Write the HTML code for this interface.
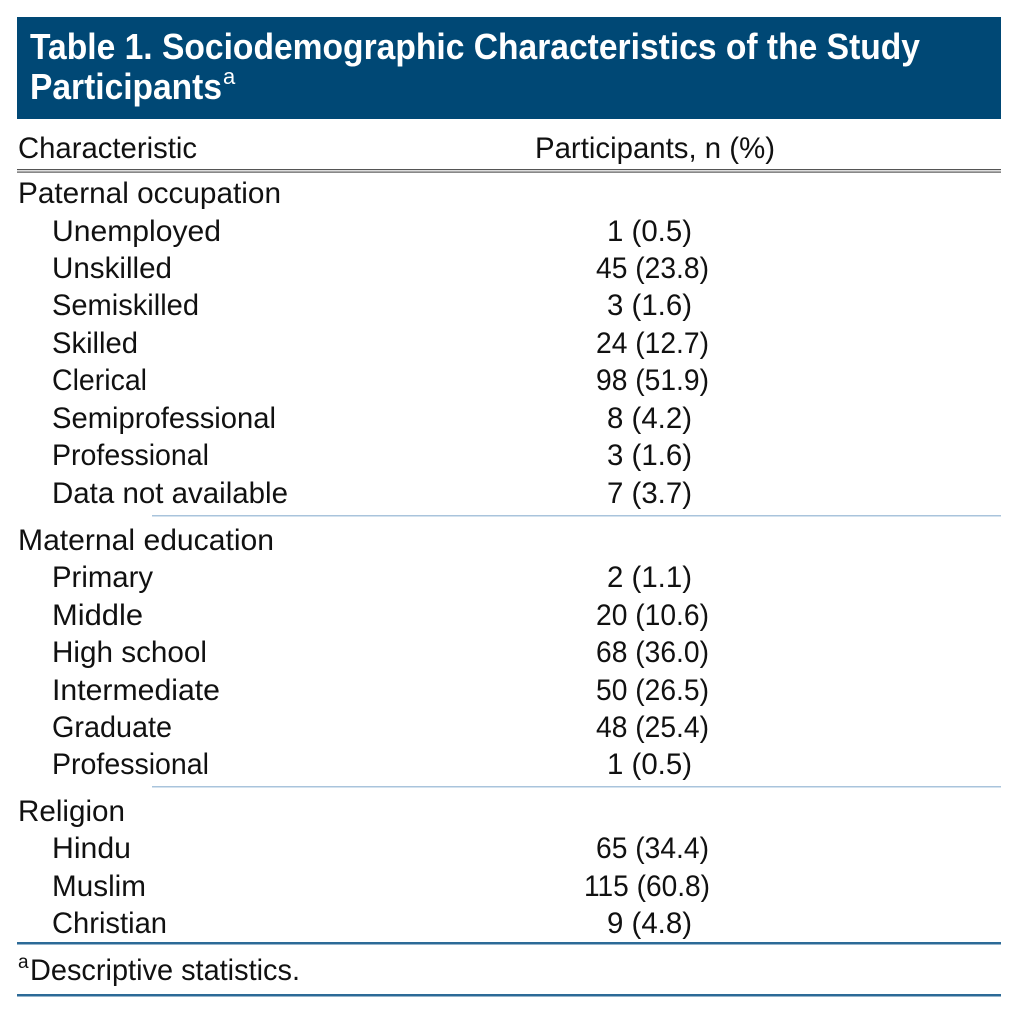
<!DOCTYPE html>
<html><head><meta charset="utf-8"><style>
html,body{margin:0;padding:0;background:#fff;width:1026px;height:1028px;overflow:hidden}
svg{display:block;font-family:"Liberation Sans",sans-serif}
</style></head><body>
<svg width="1026" height="1028" viewBox="0 0 1026 1028">
<rect x="17" y="17" width="984" height="102" fill="#004875"/>
<g fill="#fff" font-weight="bold" font-size="36">
<text x="30" y="59" textLength="890" lengthAdjust="spacingAndGlyphs">Table 1. Sociodemographic Characteristics of the Study</text>
<text x="30" y="99" textLength="192" lengthAdjust="spacingAndGlyphs">Participants</text>
<text x="223" y="84" font-size="22" font-weight="normal">a</text>
</g>
<g font-size="30" fill="#111">
<text x="18" y="158" textLength="179" lengthAdjust="spacingAndGlyphs">Characteristic</text>
<text x="535" y="158" textLength="240" lengthAdjust="spacingAndGlyphs">Participants, n (%)</text>
</g>
<rect x="17" y="169" width="984" height="1.2" fill="#555"/>
<rect x="17" y="171.5" width="984" height="1.2" fill="#555"/>
<g font-size="30" fill="#111">
<text x="18" y="203" textLength="263" lengthAdjust="spacingAndGlyphs">Paternal occupation</text>
<text x="52" y="241" textLength="169" lengthAdjust="spacingAndGlyphs">Unemployed</text>
<text x="52" y="278" textLength="120" lengthAdjust="spacingAndGlyphs">Unskilled</text>
<text x="52" y="315" textLength="147" lengthAdjust="spacingAndGlyphs">Semiskilled</text>
<text x="52" y="353" textLength="86" lengthAdjust="spacingAndGlyphs">Skilled</text>
<text x="52" y="390" textLength="95" lengthAdjust="spacingAndGlyphs">Clerical</text>
<text x="52" y="428" textLength="224" lengthAdjust="spacingAndGlyphs">Semiprofessional</text>
<text x="52" y="465" textLength="157" lengthAdjust="spacingAndGlyphs">Professional</text>
<text x="52" y="503" textLength="236" lengthAdjust="spacingAndGlyphs">Data not available</text>
<text x="18" y="550" textLength="256" lengthAdjust="spacingAndGlyphs">Maternal education</text>
<text x="52" y="587" textLength="101" lengthAdjust="spacingAndGlyphs">Primary</text>
<text x="52" y="625" textLength="91" lengthAdjust="spacingAndGlyphs">Middle</text>
<text x="52" y="662" textLength="155" lengthAdjust="spacingAndGlyphs">High school</text>
<text x="52" y="700" textLength="168" lengthAdjust="spacingAndGlyphs">Intermediate</text>
<text x="52" y="737" textLength="120" lengthAdjust="spacingAndGlyphs">Graduate</text>
<text x="52" y="774" textLength="157" lengthAdjust="spacingAndGlyphs">Professional</text>
<text x="18" y="821" textLength="107" lengthAdjust="spacingAndGlyphs">Religion</text>
<text x="52" y="858" textLength="79" lengthAdjust="spacingAndGlyphs">Hindu</text>
<text x="52" y="896" textLength="94" lengthAdjust="spacingAndGlyphs">Muslim</text>
<text x="52" y="933" textLength="115" lengthAdjust="spacingAndGlyphs">Christian</text>
</g>
<g font-size="30" fill="#111">
<text x="607" y="241" textLength="85" lengthAdjust="spacingAndGlyphs">1 (0.5)</text>
<text x="596" y="278" textLength="113" lengthAdjust="spacingAndGlyphs">45 (23.8)</text>
<text x="607" y="315" textLength="85" lengthAdjust="spacingAndGlyphs">3 (1.6)</text>
<text x="596" y="353" textLength="113" lengthAdjust="spacingAndGlyphs">24 (12.7)</text>
<text x="596" y="390" textLength="113" lengthAdjust="spacingAndGlyphs">98 (51.9)</text>
<text x="607" y="428" textLength="85" lengthAdjust="spacingAndGlyphs">8 (4.2)</text>
<text x="607" y="465" textLength="85" lengthAdjust="spacingAndGlyphs">3 (1.6)</text>
<text x="607" y="503" textLength="85" lengthAdjust="spacingAndGlyphs">7 (3.7)</text>
<text x="607" y="587" textLength="85" lengthAdjust="spacingAndGlyphs">2 (1.1)</text>
<text x="596" y="625" textLength="113" lengthAdjust="spacingAndGlyphs">20 (10.6)</text>
<text x="596" y="662" textLength="113" lengthAdjust="spacingAndGlyphs">68 (36.0)</text>
<text x="596" y="700" textLength="113" lengthAdjust="spacingAndGlyphs">50 (26.5)</text>
<text x="596" y="737" textLength="113" lengthAdjust="spacingAndGlyphs">48 (25.4)</text>
<text x="607" y="774" textLength="85" lengthAdjust="spacingAndGlyphs">1 (0.5)</text>
<text x="596" y="858" textLength="113" lengthAdjust="spacingAndGlyphs">65 (34.4)</text>
<text x="584" y="896" textLength="126" lengthAdjust="spacingAndGlyphs">115 (60.8)</text>
<text x="607" y="933" textLength="85" lengthAdjust="spacingAndGlyphs">9 (4.8)</text>
</g>
<rect x="152" y="515" width="849" height="1.5" fill="#a9c4dc"/>
<rect x="152" y="786" width="849" height="1.5" fill="#a9c4dc"/>
<rect x="17" y="942" width="984" height="2.5" fill="#2c6a97"/>
<g font-size="30" fill="#111">
<text x="18" y="968" font-size="19">a</text>
<text x="30" y="980" textLength="270" lengthAdjust="spacingAndGlyphs">Descriptive statistics.</text>
</g>
<rect x="17" y="994" width="984" height="2.5" fill="#2c6a97"/>
</svg>
</body></html>
